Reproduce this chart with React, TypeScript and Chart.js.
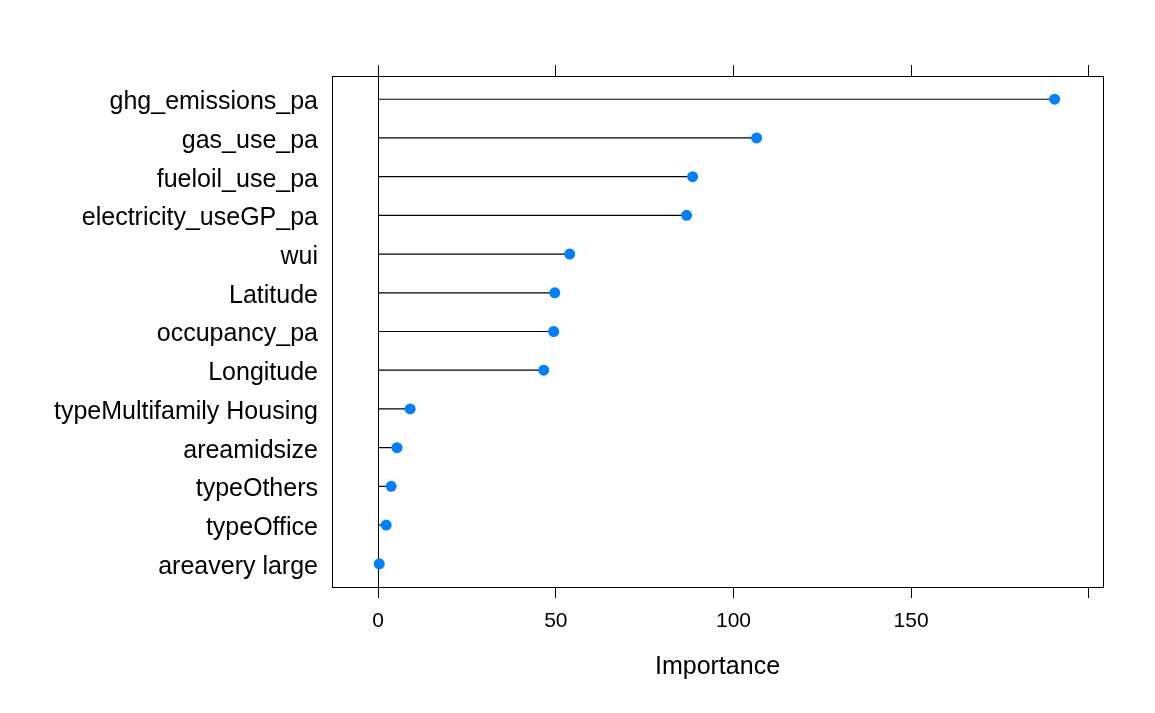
import React, { useEffect, useRef } from "react";
import { Chart, registerables } from "chart.js";

Chart.register(...registerables);

const categories: string[] = [
  "ghg_emissions_pa",
  "gas_use_pa",
  "fueloil_use_pa",
  "electricity_useGP_pa",
  "wui",
  "Latitude",
  "occupancy_pa",
  "Longitude",
  "typeMultifamily Housing",
  "areamidsize",
  "typeOthers",
  "typeOffice",
  "areavery large",
];

const importance: number[] = [190.4, 106.5, 88.5, 86.8, 53.9, 49.7, 49.4, 46.6, 9.0, 5.3, 3.65, 2.25, 0.3];

const xTicks: number[] = [0, 50, 100, 150, 200];
const xLabelled: number[] = [0, 50, 100, 150];

const FONT = '"Liberation Sans", Arial, Helvetica, sans-serif';

export default function App() {
  const ref = useRef<HTMLCanvasElement | null>(null);

  useEffect(() => {
    const canvas = ref.current;
    if (!canvas) return;
    const n = categories.length;

    const datasets = categories.map((c, i) => ({
      label: c,
      data: [
        { x: 0, y: n - i },
        { x: importance[i], y: n - i },
      ],
      borderColor: "#000000",
      borderWidth: 1.2,
      pointRadius: [0, 5.5],
      pointHoverRadius: [0, 5.5],
      pointBackgroundColor: "#0080ff",
      pointBorderColor: "#0080ff",
      pointBorderWidth: 0,
      xAxisID: "x",
      yAxisID: "y",
      clip: false as any,
    }));

    const panelBorder = {
      id: "panelBorder",
      afterDraw(chart: any) {
        const { ctx, chartArea } = chart;
        ctx.save();
        ctx.strokeStyle = "#000";
        ctx.lineWidth = 1;
        ctx.strokeRect(
          Math.round(chartArea.left) + 0.5,
          Math.round(chartArea.top) + 0.5,
          Math.round(chartArea.right) - Math.round(chartArea.left),
          Math.round(chartArea.bottom) - Math.round(chartArea.top)
        );
        ctx.restore();
      },
    };

    const chart = new Chart(canvas, {
      type: "line",
      data: { datasets: datasets as any },
      plugins: [panelBorder],
      options: {
        responsive: false,
        animation: false,
        devicePixelRatio: 1,
        layout: { padding: { left: 0, right: 52, top: 0, bottom: 0 } },
        plugins: { legend: { display: false }, tooltip: { enabled: false } },
        scales: {
          x: {
            type: "linear",
            position: "bottom",
            min: -13,
            max: 204,
            afterBuildTicks: (scale: any) => {
              scale.ticks = xTicks.map((v) => ({ value: v }));
            },
            afterFit: (scale: any) => {
              scale.height = 126;
            },
            border: { display: false },
            grid: {
              drawOnChartArea: true,
              color: (ctx: any) => (ctx.tick && ctx.tick.value === 0 ? "#000000" : "rgba(0,0,0,0)"),
              tickColor: "#000000",
              tickLength: 11,
              lineWidth: 1,
            },
            ticks: {
              autoSkip: false,
              maxRotation: 0,
              padding: 11,
              color: "#000000",
              font: { family: FONT, size: 21 },
              callback: (v: any) => (xLabelled.includes(Number(v)) ? String(v) : ""),
            },
            title: {
              display: true,
              text: "Importance",
              color: "#000000",
              font: { family: FONT, size: 25 },
              padding: { top: 0, bottom: 31 },
            },
          },
          x2: {
            type: "linear",
            position: "top",
            min: -13,
            max: 204,
            afterBuildTicks: (scale: any) => {
              scale.ticks = xTicks.map((v) => ({ value: v }));
            },
            afterFit: (scale: any) => {
              scale.height = 76;
            },
            border: { display: false },
            grid: {
              drawOnChartArea: false,
              color: "#000000",
              tickColor: "#000000",
              tickLength: 11,
              lineWidth: 1,
            },
            ticks: {
              autoSkip: false,
              maxRotation: 0,
              callback: () => "",
            },
          },
          y: {
            type: "linear",
            position: "left",
            min: 0.4,
            max: n + 0.6,
            afterBuildTicks: (scale: any) => {
              scale.ticks = categories.map((_, i) => ({ value: n - i }));
            },
            afterFit: (scale: any) => {
              scale.width = 332;
            },
            border: { display: false },
            grid: { display: false, drawTicks: false, tickLength: 0 },
            ticks: {
              autoSkip: false,
              padding: 14,
              labelOffset: 3,
              color: "#000000",
              font: { family: FONT, size: 25 },
              callback: (v: any) => categories[n - Number(v)] ?? "",
            },
          },
        },
      } as any,
    });

    return () => chart.destroy();
  }, []);

  return (
    <div style={{ position: "absolute", left: 0, top: 0, width: 1155, height: 713, background: "#fff" }}>
      <canvas ref={ref} width={1155} height={713} style={{ display: "block" }} />
    </div>
  );
}
